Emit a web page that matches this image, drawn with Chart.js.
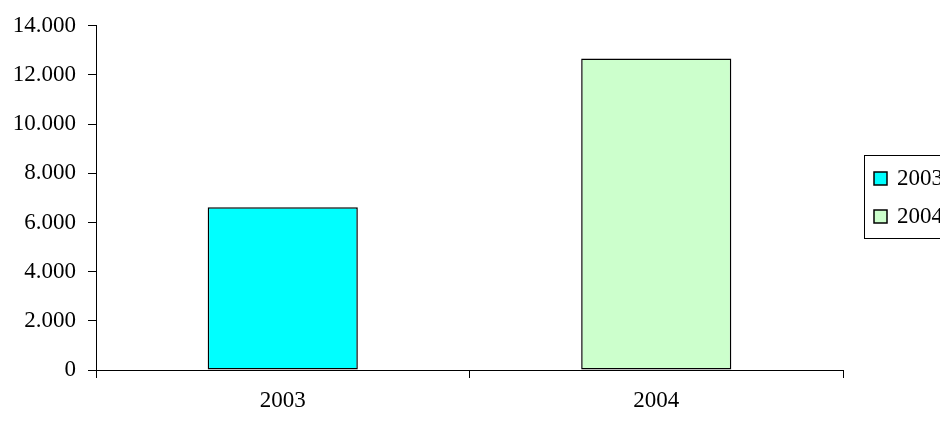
<!DOCTYPE html>
<html>
<head>
<meta charset="utf-8">
<script src="https://cdn.jsdelivr.net/npm/chart.js@4"></script>
<style>
  html, body { margin: 0; padding: 0; background: #fff; overflow: hidden; }
  #wrap { width: 940px; height: 421px; }
</style>
</head>
<body>
<div id="wrap"><canvas id="barchart"></canvas></div>
<script>
const years = ["2003", "2004"];
const values = [6620, 12670];
const barColors = ["#00FFFF", "#CCFFCC"];
const yTicks = [0, 2000, 4000, 6000, 8000, 10000, 12000, 14000];

const FONT = { family: "'Liberation Serif', 'Times New Roman', serif", size: 23 };

// thousands with a dot, like the original
const fmt = (v) => String(v).replace(/\B(?=(\d{3})+(?!\d))/g, ".");

// legend box on the right, runs off the edge like the source image
const sideLegend = {
  id: "sideLegend",
  afterDraw(chart) {
    const ctx = chart.ctx;
    const ds = chart.data.datasets[0];
    ctx.save();
    ctx.fillStyle = "#fff";
    ctx.strokeStyle = "#000";
    ctx.lineWidth = 1;
    ctx.fillRect(864.5, 155.5, 120, 83);
    ctx.strokeRect(864.5, 155.5, 120, 83);
    ctx.font = FONT.size + "px " + FONT.family;
    ctx.textBaseline = "middle";
    chart.data.labels.forEach((lab, i) => {
      const y = 172 + i * 38;
      ctx.fillStyle = ds.backgroundColor[i];
      ctx.fillRect(874, y, 13, 13);
      ctx.lineWidth = 1.5;
      ctx.strokeRect(874, y, 13, 13);
      ctx.fillStyle = "#000";
      ctx.fillText(lab, 897, y + 7);
    });
    ctx.restore();
  },
};

const config = {
  type: "bar",
  data: {
    labels: years,
    datasets: [
      {
        label: "values",
        data: values,
        backgroundColor: barColors,
        borderColor: "#000",
        borderWidth: 1.5,
        borderSkipped: false,
        categoryPercentage: 1,
        barPercentage: 0.402,
      },
    ],
  },
  options: {
    responsive: true,
    maintainAspectRatio: false,
    animation: false,
    layout: { padding: { top: 23, right: 97, bottom: 0, left: 0 } },
    plugins: {
      legend: { display: false },
      tooltip: { enabled: false },
    },
    scales: {
      x: {
        grid: { offset: true, drawOnChartArea: false, tickLength: 8, color: "#000" },
        border: { color: "#000", width: 1 },
        ticks: { color: "#000", font: FONT, padding: 9 },
        afterFit: (s) => { s.height = 51; },
      },
      y: {
        min: 0,
        max: 14000,
        afterBuildTicks: (s) => { s.ticks = yTicks.map((v) => ({ value: v })); },
        grid: { drawOnChartArea: false, tickLength: 8, color: "#000" },
        border: { color: "#000", width: 1 },
        ticks: { color: "#000", font: FONT, padding: 12, callback: (v) => fmt(v) },
        afterFit: (s) => { s.width = 96; },
      },
    },
  },
  plugins: [sideLegend],
};

const ctx = document.getElementById("barchart").getContext("2d");
new Chart(ctx, config);
</script>
</body>
</html>
